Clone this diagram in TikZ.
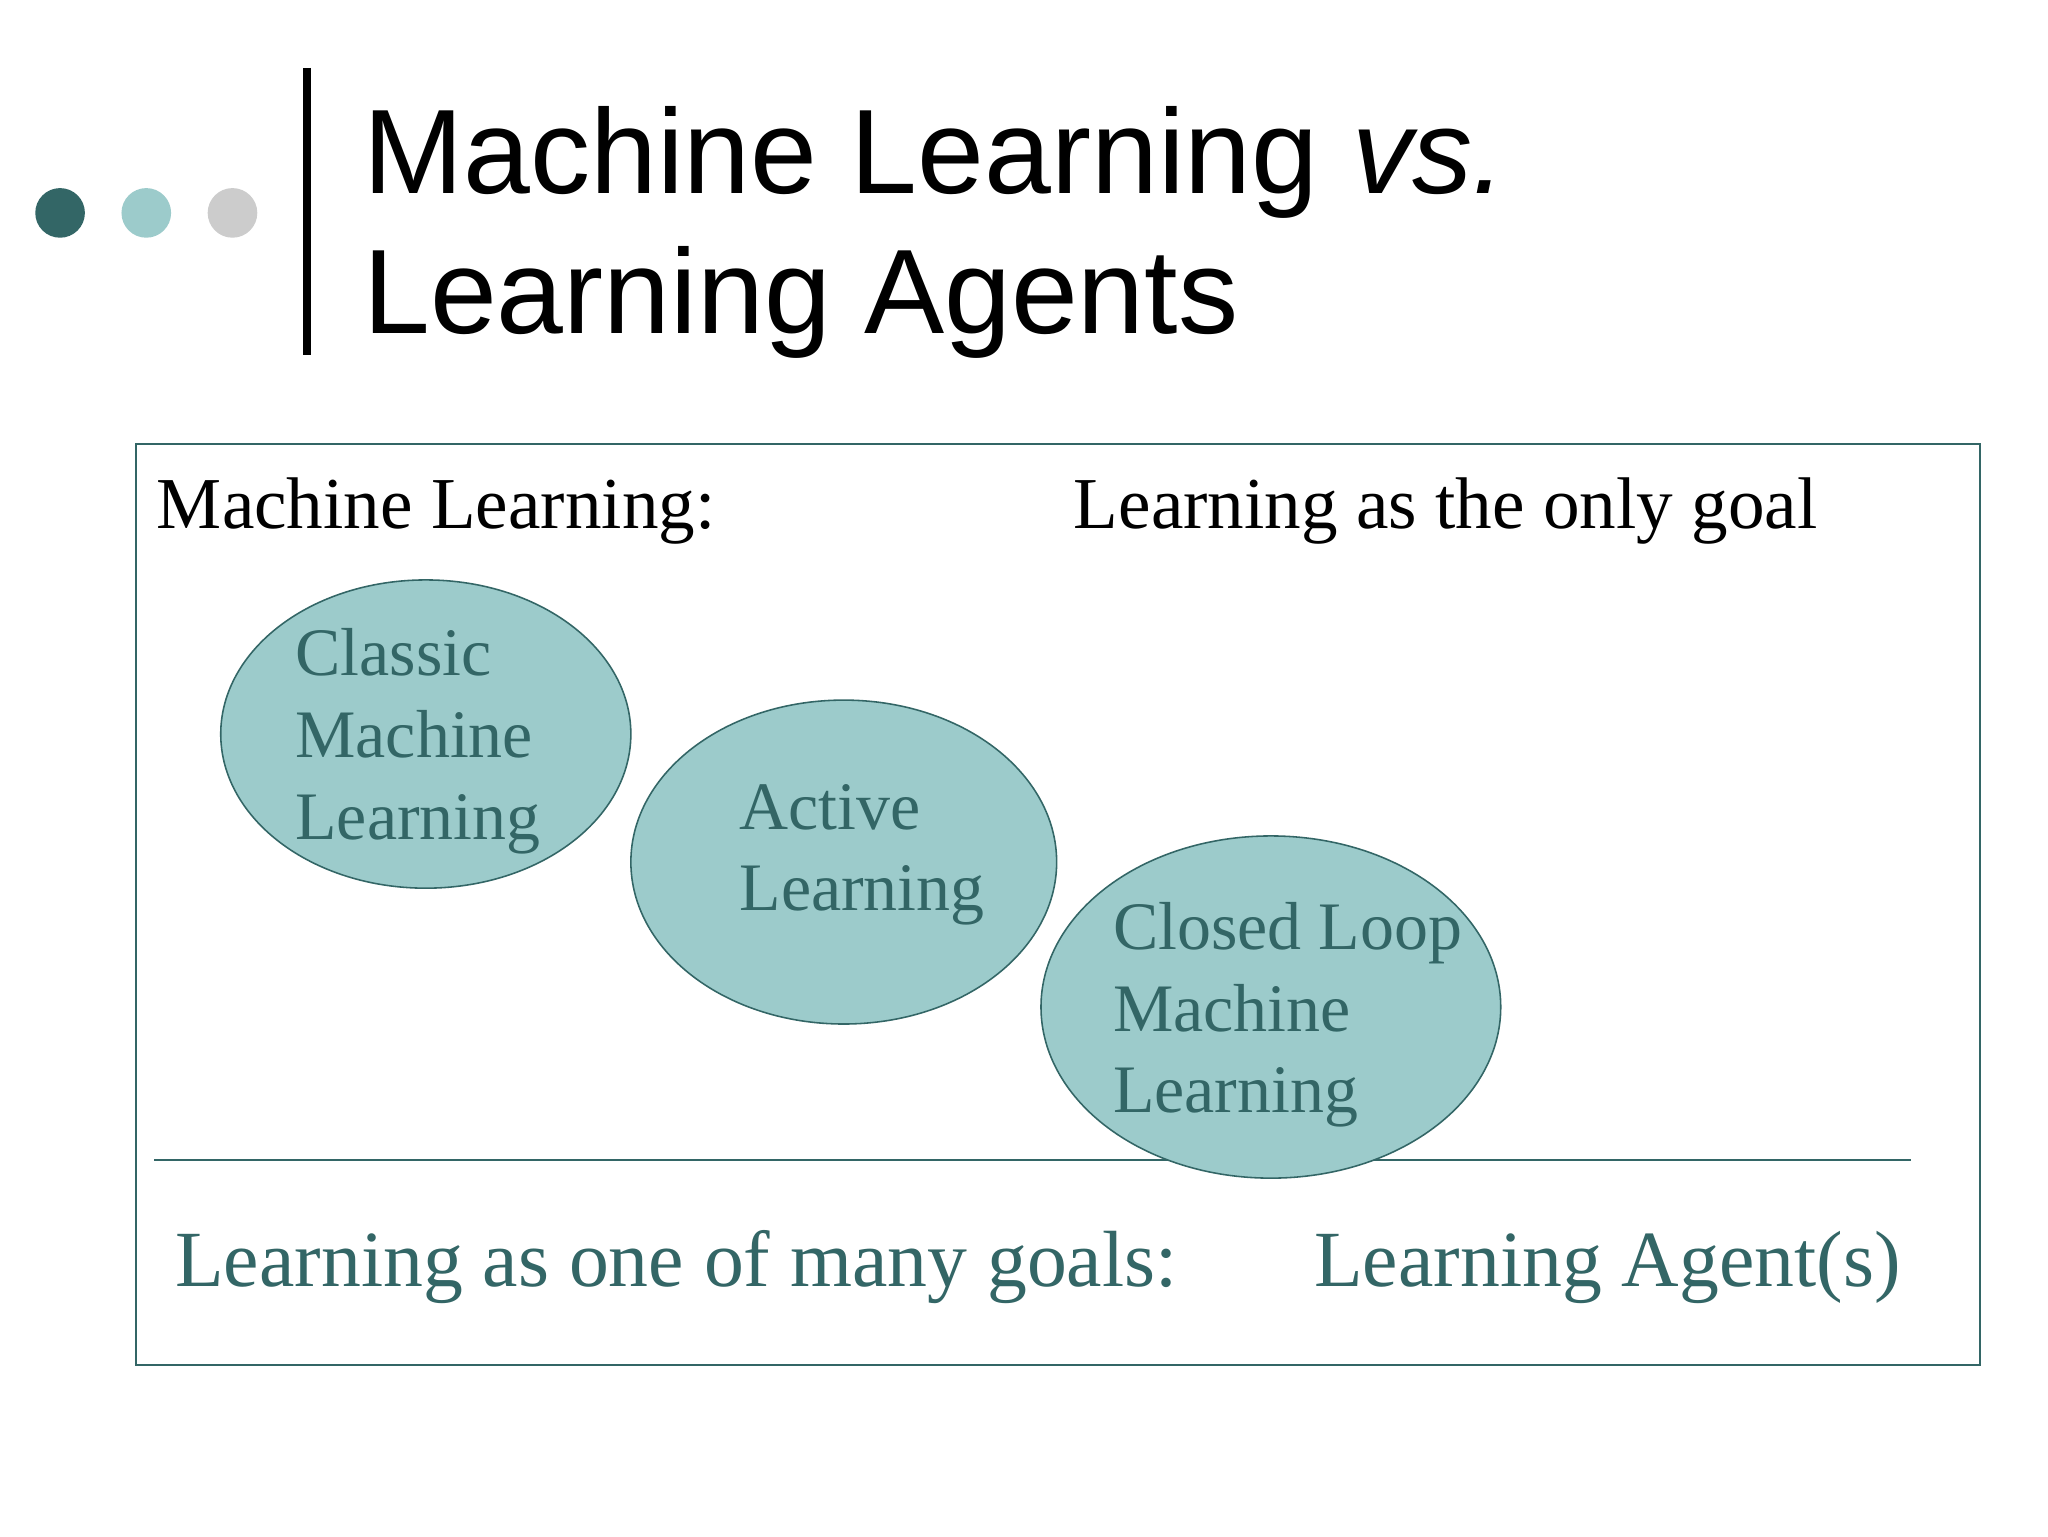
\documentclass[tikz,border=0pt]{standalone}
\usepackage{fontspec}
\setmainfont{Liberation Serif}
\newfontfamily\titlefont{Liberation Sans}
\definecolor{dteal}{HTML}{336666}
\definecolor{lteal}{HTML}{9CCBCB}
\definecolor{lgrey}{HTML}{CCCCCC}
\tikzset{
  lbl/.style={anchor=base west,inner sep=0pt},
  ell/.style={draw=dteal,fill=lteal,line width=1.2pt},
  eltext/.style={lbl,text=dteal,font=\fontsize{52}{63}\selectfont,align=left},
}
\begin{document}
\begin{tikzpicture}[x=1pt,y=-1pt]
\useasboundingbox[fill=white] (0,0) rectangle (1568,1176);
\fill[dteal] (46,163) circle (19) coordinate (d1);
\fill[lteal] (112,163) circle (19) coordinate (d2);
\fill[lgrey] (178,163) circle (19) coordinate (d3);
\draw[line width=6pt] (235,52) coordinate (v1) -- (235,272) coordinate (v2);
\node[lbl,font=\titlefont\fontsize{92}{107}\selectfont] (t1) at (278,148) {Machine Learning \textit{vs.}};
\node[lbl,font=\titlefont\fontsize{92}{107}\selectfont] (t2) at (278,255) {Learning Agents};
\draw[dteal,line width=1.2pt] (104,340) rectangle (1516,1045);
\node[lbl,font=\fontsize{56}{60}\selectfont] (ml) at (120,405) {Machine Learning:};
\node[lbl,font=\fontsize{56}{60}\selectfont] (og) at (822,405) {Learning as the only goal};
\fill[ell] (326,562) ellipse [x radius=157,y radius=118];
\fill[ell] (646,660) ellipse [x radius=163,y radius=124];
\node[eltext] (c1) at (226,517) {Classic};
\node[eltext] (c2) at (226,580) {Machine};
\node[eltext] (c3) at (226,643) {Learning};
\node[eltext] (a1) at (566,635) {Active};
\node[eltext] (a2) at (566,697) {Learning};
\draw[dteal,line width=1.2pt] (118,888) coordinate (h1) -- (1463,888) coordinate (h2);
\fill[ell] (973,771) ellipse [x radius=176,y radius=131];
\node[eltext] (k1) at (852,727) {Closed Loop};
\node[eltext] (k2) at (852,790) {Machine};
\node[eltext] (k3) at (852,852) {Learning};
\node[lbl,text=dteal,font=\fontsize{61}{66}\selectfont] (b1) at (134,985) {Learning as one of many goals:};
\node[lbl,text=dteal,font=\fontsize{61}{66}\selectfont] (b2) at (1006,985) {Learning Agent(s)};
\end{tikzpicture}
\end{document}
